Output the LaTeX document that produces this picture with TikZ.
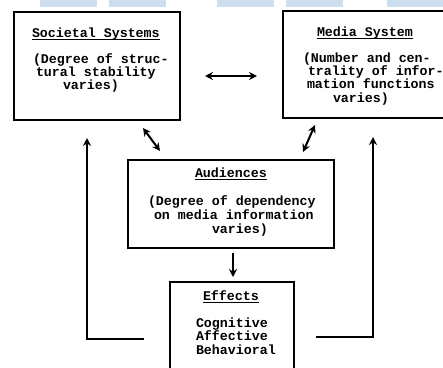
\documentclass[tikz,border=0pt]{standalone}
\usepackage{fontspec}
\newfontfamily\tw{Liberation Mono}
\usetikzlibrary{arrows.meta,calc}
\definecolor{scanblue}{RGB}{204,222,240}
\newcommand\myul[1]{\setbox0\hbox{#1}\rlap{\rule[-3pt]{\wd0}{1.1pt}}\box0}
\newcommand\setf[1]{\tw\bfseries\fontsize{13.3}{#1}\selectfont}
\begin{document}
\begin{tikzpicture}[x=1pt,y=-1pt,
  box/.style={draw,line width=1.8pt,inner sep=0pt,outer sep=0pt},
  txt/.style={anchor=base west,inner sep=0pt,outer sep=0pt,align=left},
  arr/.style={line width=2pt,-{Stealth[length=8pt,width=8pt]}},
  arrb/.style={line width=2pt,{Stealth[length=8pt,width=8pt]}-{Stealth[length=8pt,width=8pt]}},
  band/.style={fill=scanblue,draw=none}]
\clip (0,0) rectangle (443,367);
\fill[white] (0,0) rectangle (443,367);
% scan bands at the top edge
\fill[band] (40,0) rectangle (97,7);
\fill[band] (109,0) rectangle (166,7);
\fill[band] (217,0) rectangle (274,7);
\fill[band] (286,0) rectangle (343,7);
\fill[band] (387,0) rectangle (443,7);
% boxes
\node[box,minimum width=166pt,minimum height=108pt] (soc) at (97,66) {};
\node[box,minimum width=172pt,minimum height=107pt] (med) at (369,64.5) {};
\node[box,minimum width=206pt,minimum height=88pt] (aud) at (231,204) {};
\node[box,minimum width=124pt,minimum height=93pt] (eff) at (232,328.5) {};
% texts (base anchor = baseline of the last line)
\node[txt,font=\setf{13}] (socT) at (32,37) {\myul{Societal Systems}};
\node[txt,font=\setf{13}] (socB) at (33,89) {(Degree of struc-\\\hspace*{3pt}tural stability\\\hspace*{30pt}varies)};
\node[txt,font=\setf{13.3}] (medT) at (317,36) {\myul{Media System}};
\node[txt,font=\setf{13.3}] (medB) at (303,102) {(Number and cen-\\\hspace*{5pt}trality of infor-\\\hspace*{4pt}mation functions\\\hspace*{30pt}varies)};
\node[txt,font=\setf{14}] (audT) at (195,177) {\myul{Audiences}};
\node[txt,font=\setf{14}] (audB) at (148,233) {(Degree of dependency\\\hspace*{6pt}on media information\\\hspace*{64pt}varies)};
\node[txt,font=\setf{13.5}] (effT) at (203,300) {\myul{Effects}};
\node[txt,font=\setf{13.5}] (effB) at (196,354) {Cognitive\\Affective\\Behavioral};
% connectors
\draw[arrb,shorten <=25pt,shorten >=26pt] ([yshift=-10pt]soc.east) -- ([yshift=-10pt]soc.east -| med.west);
\coordinate (d1a) at (143,128);
\coordinate (d1b) at (160,151);
\draw[arrb] (d1a) -- (d1b);
\coordinate (d2a) at (315,125);
\coordinate (d2b) at (303,152);
\draw[arrb] (d2a) -- (d2b);
\draw[arr,shorten <=5pt,shorten >=5pt] ([xshift=2pt]aud.south) -- ([xshift=2pt]aud.south |- eff.north);
\coordinate (fl) at ($(eff.west)+(-26,10.5)$);
\draw[arr,shorten >=18pt] (fl) -| ([xshift=73pt]soc.south west);
\coordinate (fr) at ($(eff.east)+(22,8.5)$);
\draw[arr,shorten >=19pt] (fr) -| ([xshift=90pt]med.south west);
\end{tikzpicture}
\end{document}
